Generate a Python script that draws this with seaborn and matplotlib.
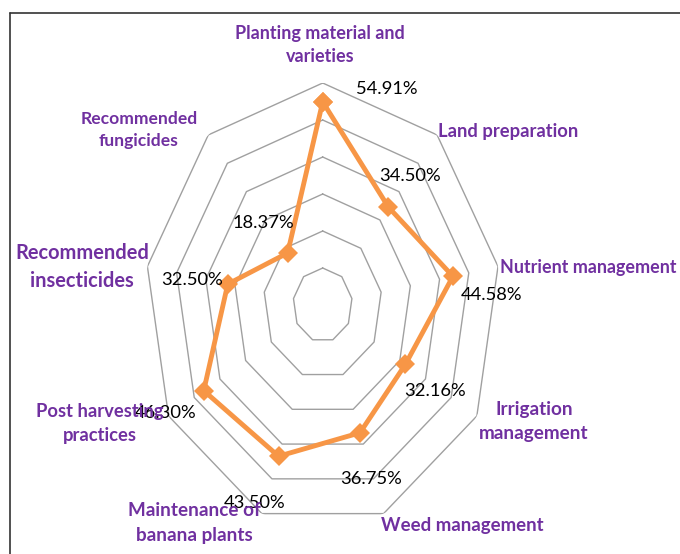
import numpy as np
import pandas as pd
import matplotlib
matplotlib.use('Agg')
import matplotlib.pyplot as plt
import seaborn as sns
from matplotlib.lines import Line2D

# Data
categories = ['Planting material and\nvarieties', 'Land preparation', 'Nutrient management',
              'Irrigation\nmanagement', 'Weed management', 'Maintenance of\nbanana plants',
              'Post harvesting\npractices', 'Recommended\ninsecticides', 'Recommended\nfungicides']
values = [54.91, 34.50, 44.58, 32.16, 36.75, 43.50, 46.30, 32.50, 18.37]
value_labels = ['54.91%', '34.50%', '44.58%', '32.16%', '36.75%', '43.50%', '46.30%', '32.50%', '18.37%']
rings = [10, 20, 30, 40, 50, 60]

# Layout (pixels in the 680x554 picture)
cat_pos = [(320, 45), (508, 131), (588, 268), (534, 422), (462, 525),
           (194, 523), (100, 423), (82, 267), (139, 130)]
cat_size = [13.0, 13.2, 12.9, 13.6, 13.4, 13.6, 13.2, 14.4, 12.6]
val_offset = [(64, -13), (22, -31), (39, 19), (30, 27), (11, 46),
              (-24, 47), (-38, 22), (-36, -4), (-24, -30)]

PURPLE = '#7030A0'
ORANGE = '#F79646'

sns.set_theme(style='white')
plt.rcParams['font.family'] = ['Lato', 'DejaVu Sans']

W, H = 680, 554
fig = plt.figure(figsize=(W / 100, H / 100), dpi=100)
cx, cy, rx, ry = 322.7, 305, 178, 222
ax = fig.add_axes([(cx - rx) / W, (H - cy - ry) / H, 2 * rx / W, 2 * ry / H], projection='polar')
ax.set_theta_zero_location('N')
ax.set_theta_direction(-1)
ax.set_aspect('auto')

theta = np.linspace(0, 2 * np.pi, len(values), endpoint=False)
t_closed = np.append(theta, 2 * np.pi)

# nonagon grid rings
for r in rings:
    ax.plot(t_closed, [r] * len(t_closed), color='#A0A0A0', lw=1, zorder=1)

df = pd.DataFrame({'theta': t_closed, 'value': values + values[:1]})
sns.lineplot(data=df, x='theta', y='value', sort=False, estimator=None, ax=ax,
             color=ORANGE, lw=3.5, marker='D', markersize=10, markeredgewidth=0, zorder=3)

ax.set_ylim(0, 60)
ax.axis('off')

# value labels
for t, v, lab, (dx, dy) in zip(theta, values, value_labels, val_offset):
    ax.annotate(lab, (t, v), xytext=(dx, -dy), textcoords='offset pixels',
                ha='center', va='center', fontsize=13.2, color='black')

# category labels
for lab, (px, py), fs in zip(categories, cat_pos, cat_size):
    fig.text(px / W, 1 - py / H, lab, ha='center', va='center', fontsize=fs,
             fontweight='bold', color=PURPLE, linespacing=1.5)

# chart border (left and top edges visible)
fig.add_artist(Line2D([10 / W, 10 / W], [0, 1 - 13 / H], color='#333333', lw=1.2))
fig.add_artist(Line2D([10 / W, 1], [1 - 13 / H, 1 - 13 / H], color='#333333', lw=1.2))

fig.savefig('out.png', dpi=100)
